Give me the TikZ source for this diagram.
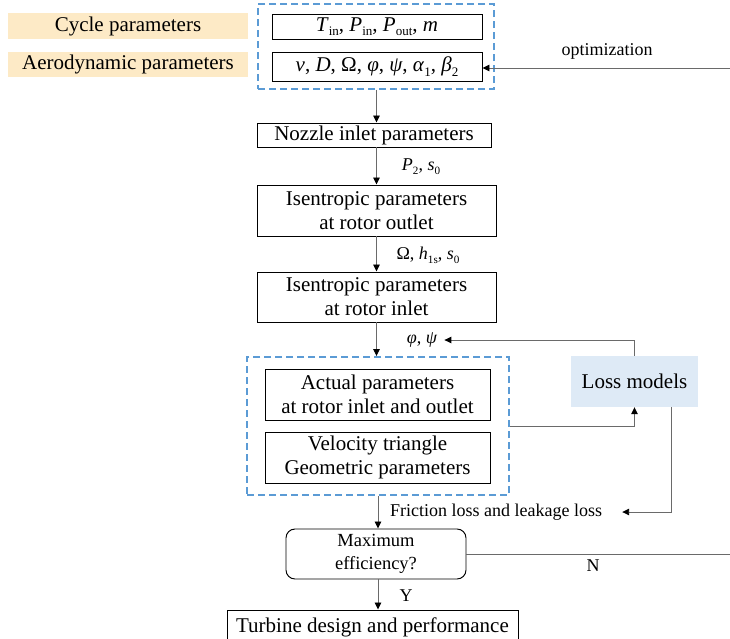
\documentclass[tikz,border=0pt]{standalone}
\usepackage{fontspec}
\setmainfont{Liberation Serif}
\usetikzlibrary{arrows.meta}
\definecolor{peach}{HTML}{FDEAC6}
\definecolor{lblue}{HTML}{DEEAF6}
\definecolor{dblue}{HTML}{5B9BD5}
\definecolor{connc}{HTML}{6A6A6A}
\newcommand\mysub[1]{\raisebox{-0.22em}{\scalebox{0.62}{\upshape #1}}}
\begin{document}
\begin{tikzpicture}[x=1pt,y=-1pt,
  bx/.style={draw=black, line width=0.95pt, inner sep=0pt, align=center, font=\fontsize{21}{24}\selectfont},
  tag/.style={fill=peach, inner sep=0pt, align=center, font=\fontsize{21}{24}\selectfont},
  dashbox/.style={draw=dblue, line width=1.9pt, dash pattern=on 7pt off 4pt, inner sep=0pt},
  lbl/.style={inner sep=1pt, font=\fontsize{18}{21}\selectfont},
  conn/.style={draw=connc, line width=0.9pt},
  arr/.style={conn, -{Triangle[length=7pt,width=6.5pt,color=black]}}
]
\useasboundingbox (0,0) rectangle (730,638);

% top
\node[tag, minimum width=240, minimum height=26] (cyc) at (128,26) {Cycle parameters};
\node[tag, minimum width=240, minimum height=25] (aero) at (128,64.5) {Aerodynamic parameters};
\node[dashbox, minimum width=236, minimum height=85] (d1) at (376,46.5) {};
\node[bx, minimum width=210, minimum height=25] (b1) at (377,26.5)
  {\textit{T}\mysub{in}, \textit{P}\mysub{in}, \textit{P}\mysub{out}, \textit{m}};
\node[bx, minimum width=210, minimum height=29] (b2) at (377,66.5)
  {\textit{v}, \textit{D}, Ω, \textit{φ}, \textit{ψ}, \textit{α}\mysub{1}, \textit{β}\mysub{2}};
\coordinate (optin) at (730,68);
\node[lbl] (opt) at (607,51) {optimization};
\draw[arr] (optin) -- (optin -| b2.east);

% chain
\node[bx, minimum width=234, minimum height=24] (noz) at (374,135) {Nozzle inlet parameters};
\node[bx, minimum width=239, minimum height=51] (iso1) at (376.5,210.5) {Isentropic parameters\\at rotor outlet};
\node[bx, minimum width=239, minimum height=50] (iso2) at (376.5,297) {Isentropic parameters\\at rotor inlet};
\draw[arr] (d1.south -| iso1.north) -- (noz.north -| iso1.north);
\draw[arr] (noz.south -| iso1.north) -- (iso1.north);
\node[lbl] (l1) at (421,167) {\textit{P}\mysub{2}, \textit{s}\mysub{0}};
\draw[arr] (iso1.south) -- (iso2.north);
\node[lbl] (l2) at (428,255) {Ω, \textit{h}\mysub{1s}, \textit{s}\mysub{0}};

% dashed group 2
\node[dashbox, minimum width=262, minimum height=138] (d2) at (378,426) {};
\node[bx, minimum width=225, minimum height=51] (act) at (377.5,394.5) {Actual parameters\\at rotor inlet and outlet};
\node[bx, minimum width=225, minimum height=51] (vel) at (377.5,457.5) {Velocity triangle\\Geometric parameters};
\draw[arr] (iso2.south) -- (iso2.south |- d2.north);
\node[lbl] (l3) at (422,340) {\textit{φ}, \textit{ψ}};

\node[fill=lblue, inner sep=0pt, minimum width=127, minimum height=51, font=\fontsize{21}{24}\selectfont] (loss) at (634.5,381.5) {Loss models};
\draw[arr] (loss.north) |- ([xshift=6pt]l3.east);
\draw[arr] (d2.east) -| (loss.south);
\node[lbl] (fric) at (496,512) {Friction loss and leakage loss};
\draw[arr] ([xshift=36.5pt]loss.south) |- ([xshift=19pt]fric.east);

% decision
\node[bx, rounded corners=9pt, minimum width=180, minimum height=50, font=\fontsize{18.5}{23}\selectfont] (maxe) at (376,554) {Maximum\\efficiency?};
\draw[arr] (d2.south) -- (d2.south |- maxe.north);
\coordinate (nend) at (730,554);
\draw[conn] (maxe.east) -- (nend);
\node[lbl] (nl) at (593,566) {N};
\node[bx, minimum width=291, minimum height=34] (turb) at (372.5,627) {Turbine design and performance};
\draw[arr] (maxe.south -| d2.south) -- (turb.north -| d2.south);
\node[lbl] (yl) at (406,596) {Y};
\end{tikzpicture}
\end{document}
